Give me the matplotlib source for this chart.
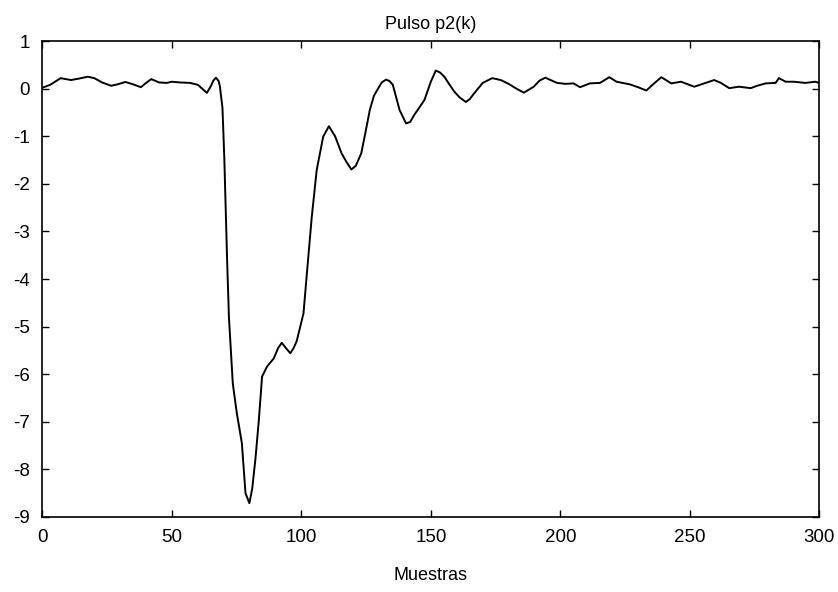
import matplotlib
matplotlib.use("Agg")
import matplotlib.pyplot as plt

# Sample index (x) and pulse value p2(k)
muestras = [0, 3, 7, 11, 14, 17.5, 20, 23, 26.5, 29, 32, 35, 38, 40, 42, 45, 48, 50,
            53, 57, 60, 63.5, 65, 66, 67, 68, 68.5, 69.5, 70.2, 71.3, 72, 73.5, 75, 77, 78.4,
            79.9, 81, 82.2, 83.5, 84.8, 86.7, 89.3, 91, 92.4, 94, 95.7, 97, 98.2, 100.8,
            102, 104, 105.9, 108.4, 110.6, 113, 115.5, 117.5, 119.3, 121, 123.1, 124.8,
            126.4, 128, 129.6, 131, 132.7, 134, 135.3, 137.9, 140.4, 142, 143.6, 145.5, 147.5,
            150, 151.9, 153.5, 155.2, 157, 159, 161, 163.5, 165, 166.7, 170, 173.7, 177, 180, 183,
            185.9, 189.7, 192, 194.2, 198.7, 202, 205.1, 207.6, 211.4, 215.3, 218.9,
            221.7, 226.8, 230, 233.2, 236, 239, 242.8, 246.6, 251.7, 255, 259.4, 262,
            265.2, 269, 273.5, 276, 279.3, 283.1, 284.4, 287, 290.1, 294.6, 298.4, 300]
p2 = [0.02, 0.08, 0.22, 0.18, 0.21, 0.25, 0.22, 0.13, 0.06, 0.09, 0.14, 0.09, 0.03, 0.12,
      0.2, 0.13, 0.12, 0.145, 0.13, 0.12, 0.08, -0.09, 0.05, 0.17, 0.23, 0.16, 0.05, -0.4,
      -1.43, -3.6, -4.8, -6.2, -6.8, -7.45, -8.5, -8.71, -8.4, -7.8, -7.0, -6.05, -5.84,
      -5.67, -5.45, -5.34, -5.45, -5.56, -5.45, -5.3, -4.72, -3.95, -2.69, -1.71, -1.01,
      -0.79, -1.0, -1.36, -1.55, -1.7, -1.62, -1.36, -0.9, -0.45, -0.15, 0.0, 0.13, 0.19,
      0.16, 0.08, -0.45, -0.73, -0.7, -0.55, -0.4, -0.24, 0.15, 0.38, 0.34, 0.25, 0.1,
      -0.06, -0.18, -0.28, -0.22, -0.1, 0.12, 0.22, 0.18, 0.1, 0.0, -0.085, 0.04, 0.17,
      0.23, 0.12, 0.1, 0.11, 0.03, 0.11, 0.12, 0.24, 0.145, 0.09, 0.03, -0.04, 0.1, 0.24,
      0.11, 0.145, 0.04, 0.1, 0.18, 0.12, 0.01, 0.04, 0.01, 0.06, 0.11, 0.12, 0.22, 0.145,
      0.145, 0.12, 0.145, 0.12]

xticks = [0, 50, 100, 150, 200, 250, 300]
yticks = [1, 0, -1, -2, -3, -4, -5, -6, -7, -8, -9]

plt.rcParams['font.family'] = ['Liberation Sans', 'DejaVu Sans']
plt.rcParams['axes.unicode_minus'] = False

fig = plt.figure(figsize=(8.38, 5.92), dpi=100)
ax = fig.add_axes([0.0507, 0.1267, 0.927, 0.804])
ax.plot(muestras, p2, color='black', linewidth=1.4)
ax.set_xlim(0, 300)
ax.set_ylim(-9, 1)
ax.set_xticks(xticks)
ax.set_yticks(yticks)
ax.tick_params(direction='in', top=True, right=True, length=5, width=1,
               labelsize=13.5)
ax.tick_params(axis='x', pad=9)
ax.tick_params(axis='y', pad=9)
for s in ax.spines.values():
    s.set_linewidth(1.2)
ax.set_title('Pulso p2(k)', fontsize=13, pad=9)
ax.set_xlabel('Muestras', fontsize=13, labelpad=15)
fig.savefig('out.png', dpi=100)
